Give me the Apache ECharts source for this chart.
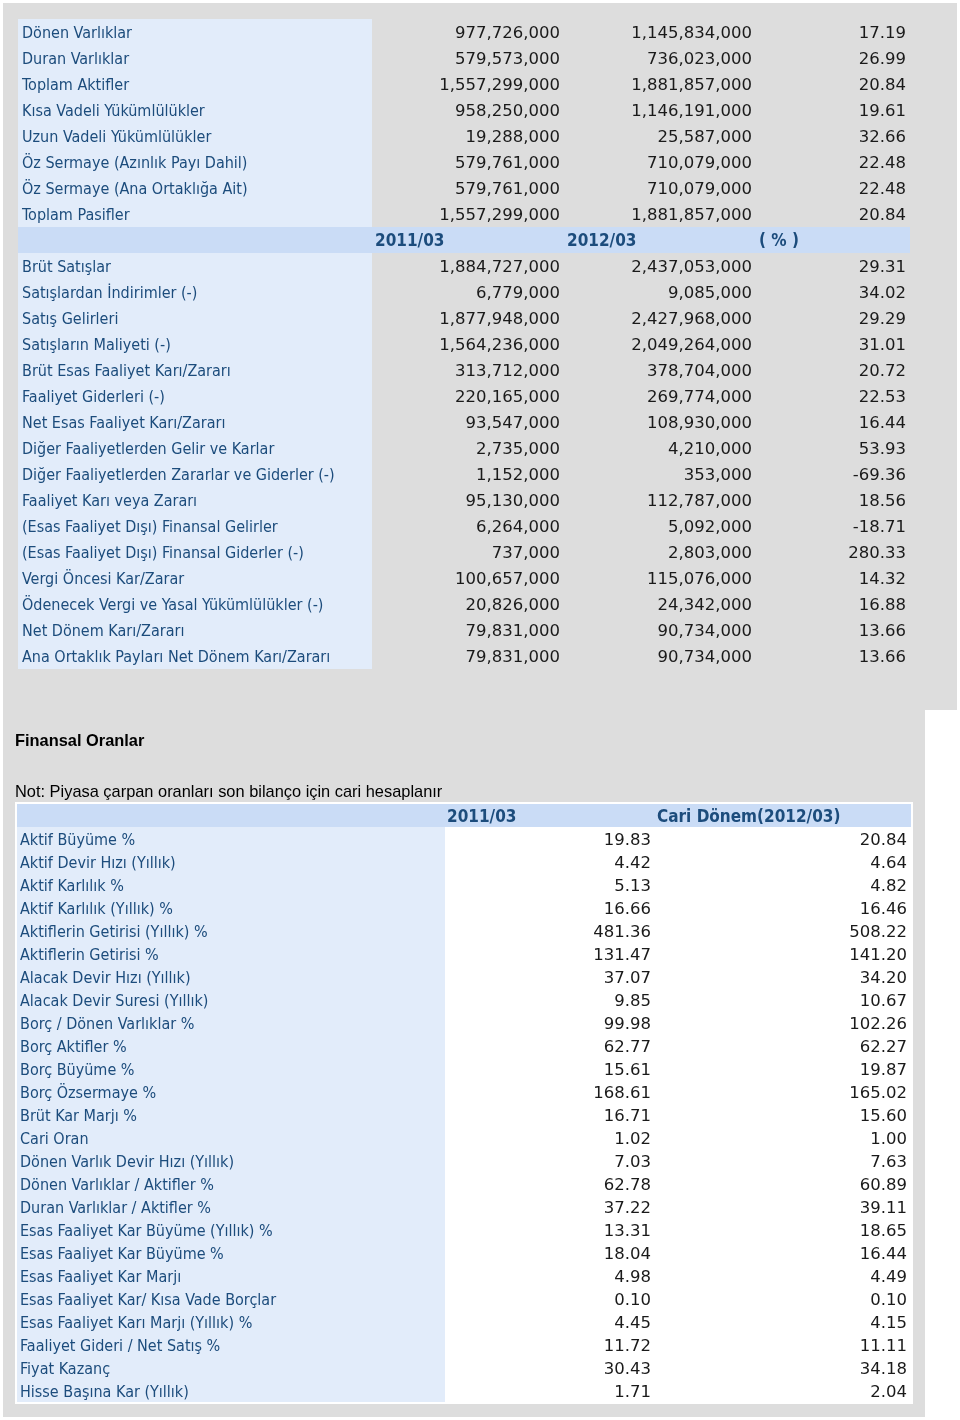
<!DOCTYPE html>
<html>
<head>
<meta charset="utf-8">
<script src="https://cdn.jsdelivr.net/npm/echarts@6/dist/echarts.min.js"></script>
<style>
  html, body { margin: 0; padding: 0; background: #fff; }
  #chart { width: 960px; height: 1420px; }
</style>
</head>
<body>
<div id="chart"></div>
<script>
// balance sheet
const balanceLabels = ["Dönen Varlıklar", "Duran Varlıklar", "Toplam Aktifler", "Kısa Vadeli Yükümlülükler",
  "Uzun Vadeli Yükümlülükler", "Öz Sermaye (Azınlık Payı Dahil)", "Öz Sermaye (Ana Ortaklığa Ait)", "Toplam Pasifler"];
const balance2011 = [977726000, 579573000, 1557299000, 958250000, 19288000, 579761000, 579761000, 1557299000];
const balance2012 = [1145834000, 736023000, 1881857000, 1146191000, 25587000, 710079000, 710079000, 1881857000];
const balancePct = [17.19, 26.99, 20.84, 19.61, 32.66, 22.48, 22.48, 20.84];

const periodHeaders = ["2011/03", "2012/03", "( % )"];

// income statement
const incomeLabels = ["Brüt Satışlar", "Satışlardan İndirimler (-)", "Satış Gelirleri", "Satışların Maliyeti (-)",
  "Brüt Esas Faaliyet Karı/Zararı", "Faaliyet Giderleri (-)", "Net Esas Faaliyet Karı/Zararı",
  "Diğer Faaliyetlerden Gelir ve Karlar", "Diğer Faaliyetlerden Zararlar ve Giderler (-)", "Faaliyet Karı veya Zararı",
  "(Esas Faaliyet Dışı) Finansal Gelirler", "(Esas Faaliyet Dışı) Finansal Giderler (-)", "Vergi Öncesi Kar/Zarar",
  "Ödenecek Vergi ve Yasal Yükümlülükler (-)", "Net Dönem Karı/Zararı", "Ana Ortaklık Payları Net Dönem Karı/Zararı"];
const income2011 = [1884727000, 6779000, 1877948000, 1564236000, 313712000, 220165000, 93547000, 2735000, 1152000,
  95130000, 6264000, 737000, 100657000, 20826000, 79831000, 79831000];
const income2012 = [2437053000, 9085000, 2427968000, 2049264000, 378704000, 269774000, 108930000, 4210000, 353000,
  112787000, 5092000, 2803000, 115076000, 24342000, 90734000, 90734000];
const incomePct = [29.31, 34.02, 29.29, 31.01, 20.72, 22.53, 16.44, 53.93, -69.36, 18.56, -18.71, 280.33, 14.32,
  16.88, 13.66, 13.66];

// financial ratios
const ratioHeaders = ["2011/03", "Cari Dönem(2012/03)"];
const ratioLabels = ["Aktif Büyüme %", "Aktif Devir Hızı (Yıllık)", "Aktif Karlılık %", "Aktif Karlılık (Yıllık) %",
  "Aktiflerin Getirisi (Yıllık) %", "Aktiflerin Getirisi %", "Alacak Devir Hızı (Yıllık)", "Alacak Devir Suresi (Yıllık)",
  "Borç / Dönen Varlıklar %", "Borç Aktifler %", "Borç Büyüme %", "Borç Özsermaye %", "Brüt Kar Marjı %", "Cari Oran",
  "Dönen Varlık Devir Hızı (Yıllık)", "Dönen Varlıklar / Aktifler %", "Duran Varlıklar / Aktifler %",
  "Esas Faaliyet Kar Büyüme (Yıllık) %", "Esas Faaliyet Kar Büyüme %", "Esas Faaliyet Kar Marjı",
  "Esas Faaliyet Kar/ Kısa Vade Borçlar", "Esas Faaliyet Karı Marjı (Yıllık) %", "Faaliyet Gideri / Net Satış %",
  "Fiyat Kazanç", "Hisse Başına Kar (Yıllık)"];
const ratio2011 = [19.83, 4.42, 5.13, 16.66, 481.36, 131.47, 37.07, 9.85, 99.98, 62.77, 15.61, 168.61, 16.71, 1.02,
  7.03, 62.78, 37.22, 13.31, 18.04, 4.98, 0.10, 4.45, 11.72, 30.43, 1.71];
const ratioCurrent = [20.84, 4.64, 4.82, 16.46, 508.22, 141.20, 34.20, 10.67, 102.26, 62.27, 19.87, 165.02, 15.60, 1.00,
  7.63, 60.89, 39.11, 18.65, 16.44, 4.49, 0.10, 4.15, 11.11, 34.18, 2.04];

const LABEL_BG = "#e2ecfa";
const HEAD_BG = "#cadcf6";
const LABEL_COLOR = "#1c4c7c";
const VALUE_COLOR = "#1a1a1a";
const FONT = "16.5px 'DejaVu Sans', Verdana, sans-serif";
const LABEL_FONT = "16px 'DejaVu Sans Condensed', 'DejaVu Sans', sans-serif";
const BOLD = "bold 17px 'DejaVu Sans Condensed', 'DejaVu Sans', sans-serif";

const money = (v) => v.toLocaleString("en-US");
const fixed = (v) => v.toFixed(2);

// top table: one header band between balance and income rows
const topCells = [];
let r = 0;
balanceLabels.forEach((name, i) => {
  topCells.push({ col: 0, row: r, kind: "label", text: name });
  topCells.push({ col: 1, row: r, kind: "value", text: money(balance2011[i]) });
  topCells.push({ col: 2, row: r, kind: "value", text: money(balance2012[i]) });
  topCells.push({ col: 3, row: r, kind: "value", text: fixed(balancePct[i]) });
  r++;
});
topCells.push({ col: 0, row: r, kind: "band", text: "" });
periodHeaders.forEach((h, i) => topCells.push({ col: i + 1, row: r, kind: "head", text: h }));
r++;
incomeLabels.forEach((name, i) => {
  topCells.push({ col: 0, row: r, kind: "label", text: name });
  topCells.push({ col: 1, row: r, kind: "value", text: money(income2011[i]) });
  topCells.push({ col: 2, row: r, kind: "value", text: money(income2012[i]) });
  topCells.push({ col: 3, row: r, kind: "value", text: fixed(incomePct[i]) });
  r++;
});
const topRows = r;

const ratioCells = [];
ratioCells.push({ col: 0, row: 0, kind: "band", text: "" });
ratioHeaders.forEach((h, i) => ratioCells.push({ col: i + 1, row: 0, kind: "head", text: h }));
ratioLabels.forEach((name, i) => {
  ratioCells.push({ col: 0, row: i + 1, kind: "label", text: name });
  ratioCells.push({ col: 1, row: i + 1, kind: "value", text: fixed(ratio2011[i]) });
  ratioCells.push({ col: 2, row: i + 1, kind: "value", text: fixed(ratioCurrent[i]) });
});
const ratioRows = ratioLabels.length + 1;

// column edges in grid units (px from grid left)
const topEdges = [0, 354, 546, 738, 892];
const ratioEdges = [0, 428, 638, 894];

function makeRender(cells, edges, pad) {
  return function (params, api) {
    const cell = cells[params.dataIndex];
    const mid = api.coord([0, api.value(1)]);
    const h = api.size([0, 1])[1];
    const top = mid[1] - h / 2;
    const x0 = api.coord([edges[cell.col], 0])[0];
    const x1 = api.coord([edges[cell.col + 1], 0])[0];
    const children = [];
    if (cell.kind === "label" || cell.kind === "band") {
      const right = cell.kind === "band" ? api.coord([edges[edges.length - 1], 0])[0] : x1;
      children.push({
        type: "rect",
        shape: { x: x0, y: top, width: right - x0, height: h },
        style: { fill: cell.kind === "band" ? HEAD_BG : LABEL_BG }
      });
    }
    if (cell.text) {
      const isValue = cell.kind === "value";
      let font = FONT;
      if (cell.kind === "head") font = BOLD;
      else if (cell.kind === "label") font = LABEL_FONT;
      children.push({
        type: "text",
        style: {
          text: cell.text,
          x: isValue ? x1 - pad.right : x0 + (cell.kind === "head" ? pad.head : pad.left),
          y: mid[1] + 2,
          align: isValue ? "right" : "left",
          verticalAlign: "middle",
          font: font,
          fill: isValue ? VALUE_COLOR : LABEL_COLOR
        }
      });
    }
    return { type: "group", children: children };
  };
}

const chart = echarts.init(document.getElementById("chart"));
const rowIds = (n) => Array.from({ length: n }, (_, i) => String(i));

const option = {
  animation: false,
  backgroundColor: "#ffffff",
  graphic: [
    { type: "rect", shape: { x: 3, y: 3, width: 954, height: 707 }, style: { fill: "#dddddd" }, z: 0 },
    { type: "rect", shape: { x: 3, y: 709, width: 922, height: 708 }, style: { fill: "#dddddd" }, z: 0 },
    { type: "rect", shape: { x: 15, y: 802, width: 898, height: 602 }, style: { fill: "#ffffff" }, z: 1 },
    {
      type: "text", x: 15, y: 741, z: 1,
      style: { text: "Finansal Oranlar", font: "bold 16.4px 'Liberation Sans', Arial, sans-serif",
        fill: "#000", verticalAlign: "middle" }
    },
    {
      type: "text", x: 15, y: 792, z: 1,
      style: { text: "Not: Piyasa çarpan oranları son bilanço için cari hesaplanır",
        font: "16.4px 'Liberation Sans', Arial, sans-serif", fill: "#000", verticalAlign: "middle" }
    }
  ],
  grid: [
    { left: 18, top: 19, width: 892, height: topRows * 26 },
    { left: 17, top: 804, width: 894, height: ratioRows * 23 }
  ],
  xAxis: [
    { type: "value", gridIndex: 0, min: 0, max: 892, show: false },
    { type: "value", gridIndex: 1, min: 0, max: 894, show: false }
  ],
  yAxis: [
    { type: "category", gridIndex: 0, data: rowIds(topRows), inverse: true, show: false },
    { type: "category", gridIndex: 1, data: rowIds(ratioRows), inverse: true, show: false }
  ],
  series: [
    {
      type: "custom",
      xAxisIndex: 0,
      yAxisIndex: 0,
      renderItem: makeRender(topCells, topEdges, { left: 4, right: 4, head: 3 }),
      data: topCells.map((c) => [c.col, c.row])
    },
    {
      type: "custom",
      xAxisIndex: 1,
      yAxisIndex: 1,
      renderItem: makeRender(ratioCells, ratioEdges, { left: 3, right: 4, head: 2 }),
      data: ratioCells.map((c) => [c.col, c.row])
    }
  ]
};

chart.setOption(option);
</script>
</body>
</html>
